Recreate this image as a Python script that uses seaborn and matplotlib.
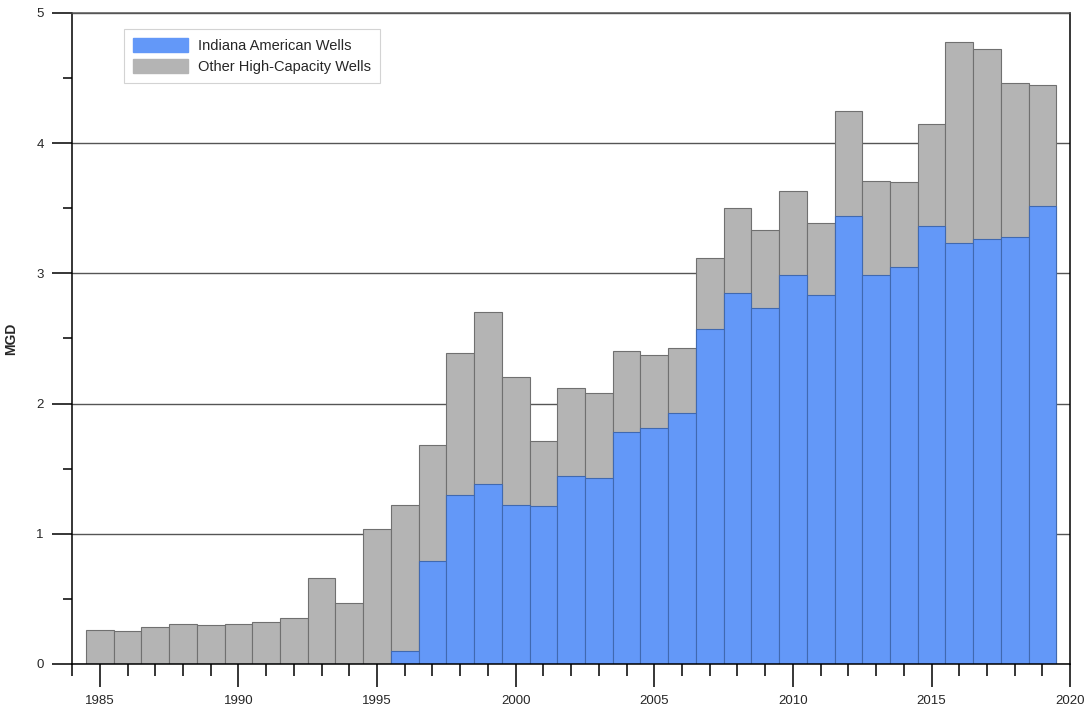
import matplotlib
matplotlib.use("Agg")
import matplotlib.pyplot as plt
from matplotlib.patches import Patch
from matplotlib.ticker import MultipleLocator
import seaborn as sns

# Annual pumpage, million gallons per day
years = list(range(1985, 2020))
total_mgd = [0.26, 0.25, 0.28, 0.31, 0.30, 0.31, 0.32, 0.35, 0.66, 0.47,
             1.04, 1.22, 1.68, 2.39, 2.70, 2.20, 1.71, 2.12, 2.08, 2.40,
             2.37, 2.43, 3.12, 3.50, 3.33, 3.63, 3.39, 4.25, 3.71, 3.70,
             4.15, 4.78, 4.72, 4.46, 4.45]
indiana_mgd = [0.0, 0.0, 0.0, 0.0, 0.0, 0.0, 0.0, 0.0, 0.0, 0.0,
               0.0, 0.10, 0.79, 1.30, 1.38, 1.22, 1.21, 1.44, 1.43, 1.78,
               1.81, 1.93, 2.57, 2.85, 2.73, 2.99, 2.83, 3.44, 2.99, 3.05,
               3.36, 3.23, 3.26, 3.28, 3.52]
series_labels = ["Indiana American Wells", "Other High-Capacity Wells"]

BLUE = "#6398F8"
GRAY = "#B4B4B4"

sns.set_theme(style="white")
plt.rcParams["font.family"] = ["Liberation Sans", "DejaVu Sans"]

fig = plt.figure(figsize=(10.92, 7.17), dpi=100)
ax = fig.add_axes([0.066, 0.074, 0.914, 0.908])
ax.set_axisbelow(True)
ax.yaxis.grid(True, which="major", color="#555555", linewidth=1.0)

# Total height in gray, Indiana American share drawn over it in blue
sns.barplot(x=years, y=total_mgd, native_scale=True, width=1.0, color=GRAY,
            saturation=1, edgecolor="#707070", linewidth=0.8, errorbar=None, ax=ax)
sns.barplot(x=years, y=indiana_mgd, native_scale=True, width=1.0, color=BLUE,
            saturation=1, edgecolor="#4069B0", linewidth=0.8, errorbar=None, ax=ax)

ax.set_xlim(1984, 2020)
ax.set_ylim(0, 5)
ax.xaxis.set_major_locator(MultipleLocator(5))
ax.xaxis.set_minor_locator(MultipleLocator(1))
ax.yaxis.set_major_locator(MultipleLocator(1))
ax.yaxis.set_minor_locator(MultipleLocator(0.5))
ax.set_xticks(range(1985, 2021, 5))
ax.set_xticklabels([str(y) for y in range(1985, 2021, 5)])

for side in ["left", "right", "top", "bottom"]:
    ax.spines[side].set_visible(True)
    ax.spines[side].set_color("black")
    ax.spines[side].set_linewidth(1.1)
ax.spines["top"].set_color("#555555")

ax.tick_params(axis="x", which="major", direction="out", length=16.5, width=1.1,
               pad=6, labelsize=9.5, color="black", bottom=True)
ax.tick_params(axis="x", which="minor", direction="out", length=8.5, width=1.1,
               color="black", bottom=True)
ax.tick_params(axis="y", which="major", direction="out", length=14.5, width=1.1,
               pad=6, labelsize=9.5, color="black", left=True, right=False)
ax.tick_params(axis="y", which="minor", direction="out", length=6.5, width=1.1,
               color="black", left=True, right=False)

ax.set_xlabel("")
ax.set_ylabel("MGD", fontsize=10, fontweight="bold")
ax.yaxis.set_label_coords(-0.054, 0.5)

handles = [Patch(facecolor=BLUE, edgecolor=BLUE),
           Patch(facecolor=GRAY, edgecolor=GRAY)]
leg = ax.legend(handles, series_labels, loc="upper left",
                bbox_to_anchor=(0.052, 0.975), borderaxespad=0,
                fontsize=10.5, handlelength=3.8, handleheight=1.15,
                handletextpad=0.7, labelspacing=0.4, borderpad=0.6,
                frameon=True, fancybox=False, edgecolor="#C8C8C8")
leg.get_frame().set_linewidth(0.8)

fig.savefig("out.png", dpi=100, facecolor="white")
